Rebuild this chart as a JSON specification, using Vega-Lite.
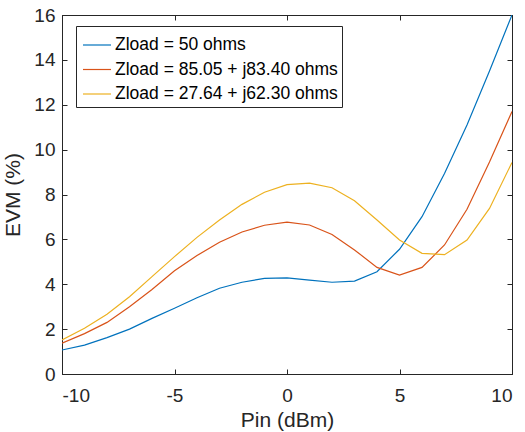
{
  "$schema": "https://vega.github.io/schema/vega-lite/v6.json",
  "autosize": "none",
  "width": 450,
  "height": 359,
  "padding": {"left": 62, "top": 15, "right": 13, "bottom": 58},
  "background": "white",
  "config": {
    "font": "Liberation Sans",
    "view": {"stroke": "#262626", "strokeWidth": 1},
    "axis": {
      "grid": false,
      "domainColor": "#262626",
      "tickColor": "#262626",
      "labelColor": "#262626",
      "titleColor": "#262626",
      "labelFont": "Liberation Sans",
      "titleFont": "Liberation Sans",
      "labelFontSize": 19,
      "titleFontSize": 21,
      "titleFontWeight": "normal",
      "tickSize": -5,
      "labelExpr": "'' + datum.value"
    }
  },
  "data": {
    "values": [
      {"pin": -10, "evm": 1.07, "load": "Zload = 50 ohms"},
      {"pin": -9, "evm": 1.29, "load": "Zload = 50 ohms"},
      {"pin": -8, "evm": 1.62, "load": "Zload = 50 ohms"},
      {"pin": -7, "evm": 2.0, "load": "Zload = 50 ohms"},
      {"pin": -6, "evm": 2.48, "load": "Zload = 50 ohms"},
      {"pin": -5, "evm": 2.93, "load": "Zload = 50 ohms"},
      {"pin": -4, "evm": 3.4, "load": "Zload = 50 ohms"},
      {"pin": -3, "evm": 3.82, "load": "Zload = 50 ohms"},
      {"pin": -2, "evm": 4.09, "load": "Zload = 50 ohms"},
      {"pin": -1, "evm": 4.26, "load": "Zload = 50 ohms"},
      {"pin": 0, "evm": 4.28, "load": "Zload = 50 ohms"},
      {"pin": 1, "evm": 4.18, "load": "Zload = 50 ohms"},
      {"pin": 2, "evm": 4.09, "load": "Zload = 50 ohms"},
      {"pin": 3, "evm": 4.14, "load": "Zload = 50 ohms"},
      {"pin": 4, "evm": 4.56, "load": "Zload = 50 ohms"},
      {"pin": 5, "evm": 5.56, "load": "Zload = 50 ohms"},
      {"pin": 6, "evm": 7.01, "load": "Zload = 50 ohms"},
      {"pin": 7, "evm": 8.94, "load": "Zload = 50 ohms"},
      {"pin": 8, "evm": 11.1, "load": "Zload = 50 ohms"},
      {"pin": 9, "evm": 13.5, "load": "Zload = 50 ohms"},
      {"pin": 10, "evm": 16.0, "load": "Zload = 50 ohms"},
      {"pin": -10, "evm": 1.37, "load": "Zload = 85.05 + j83.40 ohms"},
      {"pin": -9, "evm": 1.8, "load": "Zload = 85.05 + j83.40 ohms"},
      {"pin": -8, "evm": 2.3, "load": "Zload = 85.05 + j83.40 ohms"},
      {"pin": -7, "evm": 3.0, "load": "Zload = 85.05 + j83.40 ohms"},
      {"pin": -6, "evm": 3.77, "load": "Zload = 85.05 + j83.40 ohms"},
      {"pin": -5, "evm": 4.6, "load": "Zload = 85.05 + j83.40 ohms"},
      {"pin": -4, "evm": 5.28, "load": "Zload = 85.05 + j83.40 ohms"},
      {"pin": -3, "evm": 5.87, "load": "Zload = 85.05 + j83.40 ohms"},
      {"pin": -2, "evm": 6.33, "load": "Zload = 85.05 + j83.40 ohms"},
      {"pin": -1, "evm": 6.63, "load": "Zload = 85.05 + j83.40 ohms"},
      {"pin": 0, "evm": 6.77, "load": "Zload = 85.05 + j83.40 ohms"},
      {"pin": 1, "evm": 6.64, "load": "Zload = 85.05 + j83.40 ohms"},
      {"pin": 2, "evm": 6.22, "load": "Zload = 85.05 + j83.40 ohms"},
      {"pin": 3, "evm": 5.53, "load": "Zload = 85.05 + j83.40 ohms"},
      {"pin": 4, "evm": 4.75, "load": "Zload = 85.05 + j83.40 ohms"},
      {"pin": 5, "evm": 4.41, "load": "Zload = 85.05 + j83.40 ohms"},
      {"pin": 6, "evm": 4.75, "load": "Zload = 85.05 + j83.40 ohms"},
      {"pin": 7, "evm": 5.75, "load": "Zload = 85.05 + j83.40 ohms"},
      {"pin": 8, "evm": 7.34, "load": "Zload = 85.05 + j83.40 ohms"},
      {"pin": 9, "evm": 9.45, "load": "Zload = 85.05 + j83.40 ohms"},
      {"pin": 10, "evm": 11.7, "load": "Zload = 85.05 + j83.40 ohms"},
      {"pin": -10, "evm": 1.52, "load": "Zload = 27.64 + j62.30 ohms"},
      {"pin": -9, "evm": 2.04, "load": "Zload = 27.64 + j62.30 ohms"},
      {"pin": -8, "evm": 2.66, "load": "Zload = 27.64 + j62.30 ohms"},
      {"pin": -7, "evm": 3.44, "load": "Zload = 27.64 + j62.30 ohms"},
      {"pin": -6, "evm": 4.34, "load": "Zload = 27.64 + j62.30 ohms"},
      {"pin": -5, "evm": 5.23, "load": "Zload = 27.64 + j62.30 ohms"},
      {"pin": -4, "evm": 6.09, "load": "Zload = 27.64 + j62.30 ohms"},
      {"pin": -3, "evm": 6.86, "load": "Zload = 27.64 + j62.30 ohms"},
      {"pin": -2, "evm": 7.56, "load": "Zload = 27.64 + j62.30 ohms"},
      {"pin": -1, "evm": 8.1, "load": "Zload = 27.64 + j62.30 ohms"},
      {"pin": 0, "evm": 8.44, "load": "Zload = 27.64 + j62.30 ohms"},
      {"pin": 1, "evm": 8.51, "load": "Zload = 27.64 + j62.30 ohms"},
      {"pin": 2, "evm": 8.3, "load": "Zload = 27.64 + j62.30 ohms"},
      {"pin": 3, "evm": 7.72, "load": "Zload = 27.64 + j62.30 ohms"},
      {"pin": 4, "evm": 6.86, "load": "Zload = 27.64 + j62.30 ohms"},
      {"pin": 5, "evm": 5.97, "load": "Zload = 27.64 + j62.30 ohms"},
      {"pin": 6, "evm": 5.38, "load": "Zload = 27.64 + j62.30 ohms"},
      {"pin": 7, "evm": 5.32, "load": "Zload = 27.64 + j62.30 ohms"},
      {"pin": 8, "evm": 5.97, "load": "Zload = 27.64 + j62.30 ohms"},
      {"pin": 9, "evm": 7.38, "load": "Zload = 27.64 + j62.30 ohms"},
      {"pin": 10, "evm": 9.43, "load": "Zload = 27.64 + j62.30 ohms"}
    ]
  },
  "layer": [
    {
      "mark": {"type": "line", "strokeWidth": 1.2, "clip": true},
      "encoding": {
        "x": {
          "field": "pin",
          "type": "quantitative",
          "scale": {"domain": [-10, 10], "nice": false, "zero": false},
          "axis": {"orient": "bottom", "title": "Pin (dBm)", "values": [-10, -5, 0, 5, 10], "labelPadding": 17, "titlePadding": 4}
        },
        "y": {
          "field": "evm",
          "type": "quantitative",
          "scale": {"domain": [0, 16], "nice": false},
          "axis": {"orient": "left", "title": "EVM (%)", "values": [0, 2, 4, 6, 8, 10, 12, 14, 16], "labelPadding": 12, "titlePadding": 10}
        },
        "color": {
          "field": "load",
          "type": "nominal",
          "sort": ["Zload = 50 ohms", "Zload = 85.05 + j83.40 ohms", "Zload = 27.64 + j62.30 ohms"],
          "scale": {
            "domain": ["Zload = 50 ohms", "Zload = 85.05 + j83.40 ohms", "Zload = 27.64 + j62.30 ohms"],
            "range": ["#0072BD", "#D95319", "#EDB120"]
          },
          "legend": {
            "title": null,
            "orient": "none",
            "legendX": 14,
            "legendY": 11,
            "symbolType": "stroke",
            "symbolSize": 784,
            "symbolStrokeWidth": 1.2,
            "symbolOffset": 2,
            "labelFont": "Liberation Sans",
            "labelFontSize": 17.5,
            "labelColor": "#000000",
            "labelOffset": 3,
            "rowPadding": 0.5,
            "padding": 4,
            "strokeColor": "#262626",
            "fillColor": "white",
            "labelLimit": 400
          }
        }
      }
    },
    {
      "mark": {"type": "line", "opacity": 0},
      "encoding": {
        "x": {
          "field": "pin",
          "type": "quantitative",
          "scale": {"domain": [-10, 10], "nice": false, "zero": false},
          "axis": {"orient": "top", "title": null, "labels": false, "values": [-10, -5, 0, 5, 10]}
        },
        "y": {
          "field": "evm",
          "type": "quantitative",
          "scale": {"domain": [0, 16], "nice": false},
          "axis": {"orient": "right", "title": null, "labels": false, "values": [0, 2, 4, 6, 8, 10, 12, 14, 16]}
        },
        "detail": {"field": "load", "type": "nominal"}
      }
    }
  ],
  "resolve": {"axis": {"x": "independent", "y": "independent"}}
}
